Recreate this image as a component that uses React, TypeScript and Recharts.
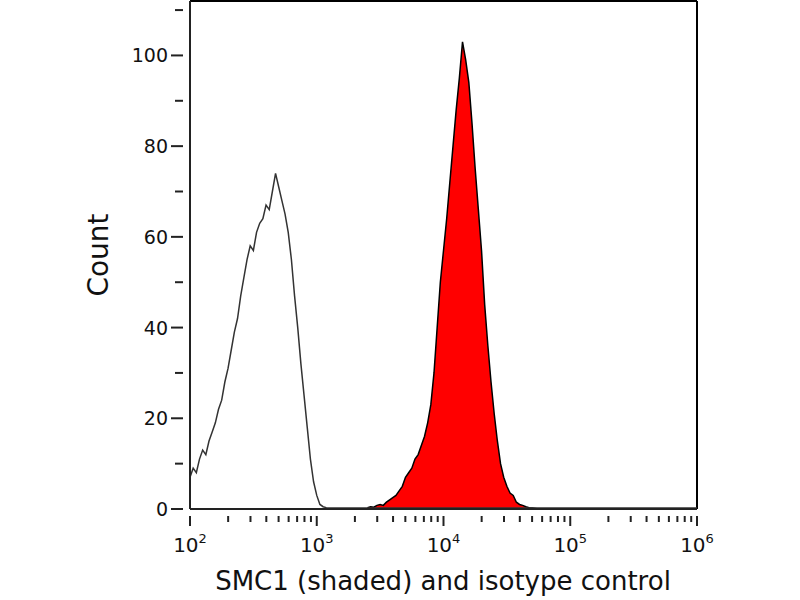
import React from "react";
import { ComposedChart, Area, Line, XAxis, YAxis, ReferenceLine } from "recharts";

// log10 of fluorescence intensity vs count
const isoX = [2.0, 2.025, 2.05, 2.075, 2.1, 2.125, 2.15, 2.175, 2.2, 2.225, 2.25, 2.275, 2.3, 2.325, 2.35, 2.375, 2.4, 2.425, 2.45, 2.475, 2.5, 2.525, 2.55, 2.575, 2.6, 2.625, 2.65, 2.675, 2.7, 2.725, 2.75, 2.775, 2.8, 2.825, 2.85, 2.875, 2.9, 2.925, 2.95, 2.975, 3.0, 3.025, 3.05, 3.075, 3.1, 6.0];
const isoY = [7, 9, 8, 11, 13, 12, 15, 17, 19, 22, 24, 28, 31, 35, 39, 42, 47, 51, 55, 58, 57, 61, 63, 64, 67, 66, 70, 74, 71, 68, 65, 61, 55, 47, 40, 32, 25, 18, 11, 6, 3, 1, 0.5, 0.3, 0.2, 0.2];

const smcX = [3.4, 3.425, 3.45, 3.475, 3.5, 3.525, 3.55, 3.575, 3.6, 3.625, 3.65, 3.675, 3.7, 3.725, 3.75, 3.775, 3.8, 3.825, 3.85, 3.875, 3.9, 3.925, 3.95, 3.975, 4.0, 4.025, 4.05, 4.075, 4.1, 4.125, 4.15, 4.175, 4.2, 4.225, 4.25, 4.275, 4.3, 4.325, 4.35, 4.375, 4.4, 4.425, 4.45, 4.475, 4.5, 4.525, 4.55, 4.575, 4.6, 4.625, 4.65, 4.675, 4.7, 4.725, 4.75];
const smcY = [0.3, 0.5, 0.4, 0.8, 1, 0.8, 1.5, 2, 2.5, 3, 4, 5, 7, 8, 9, 11, 12, 14, 16, 19, 23, 30, 40, 50, 57, 64, 72, 80, 88, 95, 103, 99, 94, 85, 75, 66, 57, 45, 36, 28, 21, 15, 10, 7, 5, 3.5, 3, 1.5, 1, 0.8, 0.5, 0.3, 0.2, 0.1, 0];

const yTicks = [0, 10, 20, 30, 40, 50, 60, 70, 80, 90, 100, 110];
const decades = [2, 3, 4, 5, 6];

const isoData = isoX.map((x, i) => ({ x, y: isoY[i] }));
const smcData = smcX.map((x, i) => ({ x, y: smcY[i] }));
const xTicks: number[] = [];
decades.forEach((d) => {
  xTicks.push(d);
  if (d < 6) for (let k = 2; k <= 9; k++) xTicks.push(d + Math.log10(k));
});

const font = "DejaVu Sans, sans-serif";

const YTick = ({ x, y, payload }: any) => {
  const major = payload.value % 20 === 0;
  return (
    <g>
      <line x1={x + 1} x2={x - (major ? 11 : 7)} y1={y} y2={y} stroke="#222" strokeWidth={2} />
      {major && (
        <text x={x - 14} y={y + 7} textAnchor="end" fontSize={19} fontFamily={font} fill="#111">
          {payload.value}
        </text>
      )}
    </g>
  );
};

const XTick = ({ x, y, payload }: any) => {
  const major = Number.isInteger(payload.value);
  return (
    <g>
      <line x1={x} x2={x} y1={y - 1} y2={y + (major ? 9 : 5)} stroke="#222" strokeWidth={2} />
      {major && (
        <text x={x} y={y + 35} textAnchor="middle" fontSize={20} fontFamily={font} fill="#111">
          10<tspan dy={-9} fontSize={13}>{payload.value}</tspan>
        </text>
      )}
    </g>
  );
};

export default function App() {
  return (
    <div style={{ position: "absolute", left: 0, top: 0 }}>
      <ComposedChart width={800} height={600} margin={{ top: 1, right: 103, left: 0, bottom: 0 }}>
        <XAxis
          type="number"
          dataKey="x"
          domain={[2, 6]}
          ticks={xTicks}
          interval={0}
          tick={<XTick />}
          tickLine={false}
          height={91}
          stroke="#222"
          strokeWidth={2}
          allowDuplicatedCategory={false}
        />
        <YAxis
          type="number"
          domain={[0, 112]}
          ticks={yTicks}
          interval={0}
          tick={<YTick />}
          tickLine={false}
          width={190}
          stroke="#222"
          strokeWidth={2}
        />
        <ReferenceLine y={112} stroke="#000" strokeWidth={2} />
        <ReferenceLine x={6} stroke="#000" strokeWidth={2} />
        <Line data={isoData} dataKey="y" type="linear" stroke="#333" strokeWidth={1.5} dot={false} isAnimationActive={false} />
        <Area data={smcData} dataKey="y" type="linear" stroke="#000" strokeWidth={1.5} fill="#ff0000" fillOpacity={1} isAnimationActive={false} />
        <text x={443} y={590} textAnchor="middle" fontSize={26} fontFamily={font} fill="#111">
          SMC1 (shaded) and isotype control
        </text>
        <text x={108} y={255} textAnchor="middle" fontSize={28} fontFamily={font} fill="#111" transform="rotate(-90 108 255)">
          Count
        </text>
      </ComposedChart>
    </div>
  );
}
